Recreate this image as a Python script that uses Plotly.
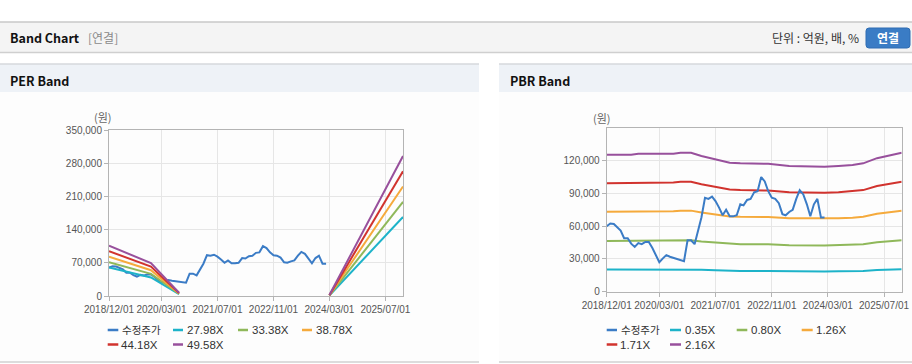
import plotly.graph_objects as go
import pandas as pd

W, H = 912, 364

# ---------------- data ----------------
price_dates = [d.strftime("%Y-%m-%d") for d in pd.date_range("2018-12-01", periods=63, freq="MS")]
price = [60000, 62500, 62000, 59500, 56000, 49000, 49000, 44000, 41000, 44500,
         43500, 45500, 45500, 40000, 33000, 27000, 30500, 33500, 32000, 31000,
         30500, 29500, 28000, 47000, 47000, 43500, 57000, 68000, 86000, 85000,
         87000, 83000, 77000, 70000, 75000, 69000, 69000, 70000, 80000, 79000,
         84000, 85000, 91000, 92000, 105000, 101000, 92000, 86000, 85000, 81000,
         71000, 70000, 73000, 75000, 85000, 93000, 89000, 80000, 69000, 80000,
         85000, 68000, 68000]

per_dates = ["2018-12-01", "2019-03-01", "2019-06-01", "2019-09-01", "2019-12-01",
             "2020-03-01", "2020-06-01", "2020-08-01", "2022-06-01",
             "2024-03-01", "2024-06-01", "2024-09-01", "2024-12-01", "2025-03-01",
             "2025-06-01", "2025-09-01", "2025-12-01"]
per_names = ["27.98X", "33.38X", "38.78X", "44.18X", "49.58X"]
per_2798 = [59900, 54800, 50100, 44800, 39200, 26000, 12600, 3900, None,
            1100, 24600, 48100, 71900, 95700, 119200, 143000, 166500]
per_3338 = [71400, 65400, 59800, 53400, 46700, 31000, 15000, 4700, None,
            1300, 29400, 57400, 85800, 114200, 142200, 170600, 198600]
per_3878 = [83000, 76000, 69400, 62000, 54300, 36100, 17500, 5400, None,
            1600, 34100, 66700, 99700, 132600, 165200, 198200, 230700]
per_4418 = [94500, 86600, 79100, 70700, 61900, 41100, 19900, 6200, None,
            1800, 38900, 76000, 113500, 151100, 188200, 225800, 262900]
per_4958 = [106100, 97200, 88700, 79300, 69400, 46100, 22300, 6900, None,
            2000, 43600, 85300, 127400, 169600, 211200, 253400, 295000]

pbr_dates = ["2018-12-01", "2019-07-01", "2019-09-01", "2020-07-01", "2020-09-01",
             "2020-12-01", "2021-03-01", "2021-07-01", "2021-11-01", "2022-02-01",
             "2022-10-01", "2023-04-01", "2024-02-01", "2024-06-01", "2024-10-01",
             "2025-01-01", "2025-05-01", "2025-12-01"]
pbr_names = ["0.35X", "0.80X", "1.26X", "1.71X", "2.16X"]
pbr_035 = [20335, 20335, 20475, 20475, 20615, 20615, 20125, 19670, 19145, 19040,
           18970, 18655, 18550, 18655, 18795, 19040, 19810, 20615]
pbr_080 = [46480, 46480, 46800, 46800, 47120, 47120, 46000, 44960, 43760, 43520,
           43360, 42640, 42400, 42640, 42960, 43520, 45280, 47120]
pbr_126 = [73206, 73206, 73710, 73710, 74214, 74214, 72450, 70812, 68922, 68544,
           68292, 67158, 66780, 67158, 67662, 68544, 71316, 74214]
pbr_171 = [99351, 99351, 100035, 100035, 100719, 100719, 98325, 96102, 93537, 93024,
           92682, 91143, 90630, 91143, 91827, 93024, 96786, 100719]
pbr_216 = [125496, 125496, 126360, 126360, 127224, 127224, 124200, 121392, 118152, 117504,
           117072, 115128, 114480, 115128, 115992, 117504, 122256, 127224]

tick_dates = ["2018-12-01", "2020-03-01", "2021-07-01", "2022-11-01", "2024-03-01", "2025-07-01"]
tick_text = ["2018/12/01", "2020/03/01", "2021/07/01", "2022/11/01", "2024/03/01", "2025/07/01"]

price_name = "수정주가"
colors = ["#3b7cc6", "#1db3c9", "#8fb85a", "#f5aa3c", "#d1332e", "#98509c"]

# ---------------- figure ----------------
def px(x):
    return x / W

def py(y):
    return 1 - y / H

fig = go.Figure()

fig.add_trace(go.Scatter(x=price_dates, y=price, mode="lines", name=price_name,
                         line=dict(color=colors[0], width=2), xaxis="x", yaxis="y"))
for nm, vals, c in zip(per_names, [per_2798, per_3338, per_3878, per_4418, per_4958], colors[1:]):
    fig.add_trace(go.Scatter(x=per_dates, y=vals, mode="lines", name=nm, connectgaps=False,
                             line=dict(color=c, width=2), xaxis="x", yaxis="y"))

for nm, vals, c in zip(pbr_names, [pbr_035, pbr_080, pbr_126, pbr_171, pbr_216], colors[1:]):
    fig.add_trace(go.Scatter(x=pbr_dates, y=vals, mode="lines", name=nm,
                             line=dict(color=c, width=2), xaxis="x2", yaxis="y2"))
fig.add_trace(go.Scatter(x=price_dates, y=price, mode="lines", name=price_name,
                         line=dict(color=colors[0], width=2), xaxis="x2", yaxis="y2"))

tick_font = dict(family="Liberation Sans, Arial", size=10, color="#555555")
grid = "#e6e6e6"
border = "#b4b4b4"

def xax(domain):
    return dict(domain=domain, type="date", range=["2018-12-01", "2025-12-01"],
                tickmode="array", tickvals=tick_dates, ticktext=tick_text, tickangle=0,
                showgrid=True, gridcolor=grid, gridwidth=1, zeroline=False,
                showline=True, linecolor=border, linewidth=1, mirror=True,
                ticks="outside", ticklen=4, tickcolor=border, tickfont=tick_font,
                automargin=False, fixedrange=True)

def yax(domain, rng, dtick, anchor):
    return dict(domain=domain, range=rng, dtick=dtick, tick0=0, tickformat=",d",
                showgrid=True, gridcolor=grid, gridwidth=1, zeroline=False,
                showline=True, linecolor=border, linewidth=1, mirror=True,
                ticks="outside", ticklen=4, tickcolor=border, tickfont=tick_font,
                anchor=anchor, automargin=False, fixedrange=True)

fig.update_layout(
    width=W, height=H, margin=dict(l=0, r=0, t=0, b=0, pad=0, autoexpand=False),
    paper_bgcolor="white", plot_bgcolor="white", showlegend=False,
    xaxis=dict(xax([px(109), px(403)]), anchor="y"),
    yaxis=yax([py(296), py(130)], [0, 350000], 70000, "x"),
    xaxis2=dict(xax([px(606.7), px(901.7)]), anchor="y2"),
    yaxis2=yax([py(291.7), py(128.3)], [0, 149600], 30000, "x2"),
)

shapes = []
# top header
shapes.append(dict(type="rect", xref="paper", yref="paper", x0=0, x1=1, y0=py(52), y1=py(22),
                   fillcolor="#f4f4f4", line=dict(width=0), layer="below"))
shapes.append(dict(type="line", xref="paper", yref="paper", x0=0, x1=1, y0=py(22), y1=py(22),
                   line=dict(color="#c8c8c8", width=1.5)))
shapes.append(dict(type="line", xref="paper", yref="paper", x0=0, x1=1, y0=py(52.5), y1=py(52.5),
                   line=dict(color="#cfcfcf", width=1.5)))
# panels
for x0, x1 in [(0, 479), (499, 912)]:
    shapes.append(dict(type="rect", xref="paper", yref="paper", x0=px(x0), x1=px(x1), y0=py(362), y1=py(64),
                       fillcolor="#fdfdfd", line=dict(width=0), layer="below"))
    shapes.append(dict(type="rect", xref="paper", yref="paper", x0=px(x0), x1=px(x1), y0=py(92), y1=py(64),
                       fillcolor="#eef2f7", line=dict(width=0), layer="below"))
    shapes.append(dict(type="line", xref="paper", yref="paper", x0=px(x0), x1=px(x1), y0=py(64), y1=py(64),
                       line=dict(color="#d6d9dd", width=1.5)))
    shapes.append(dict(type="line", xref="paper", yref="paper", x0=px(x0), x1=px(x1), y0=py(362), y1=py(362),
                       line=dict(color="#d0d0d0", width=1.5)))
# button
shapes.append(dict(type="path", xref="paper", yref="paper",
                   path="M {a},{b} L {c},{b} Q {d},{b} {d},{e} L {d},{f} Q {d},{g} {c},{g} L {a},{g} Q {h},{g} {h},{f} L {h},{e} Q {h},{b} {a},{b} Z".format(
                       a=px(869), c=px(907), d=px(910), h=px(866), b=py(28), e=py(31), f=py(45), g=py(48)),
                   fillcolor="#3a7cc5", line=dict(color="#2f6db3", width=1)))

# custom legends
R1, R2 = 330, 344.5
legend_rows = [
    # (sample x0, x1, text x, y, color, text)
    (107.7, 118.3, 121, R1, colors[0], price_name),
    (173, 183, 185.5, R1, colors[1], per_names[0]),
    (238, 248, 250.5, R1, colors[2], per_names[1]),
    (302, 312, 314.5, R1, colors[3], per_names[2]),
    (107.7, 118.3, 120, R2, colors[4], per_names[3]),
    (173, 183, 185.5, R2, colors[5], per_names[4]),
    (606.7, 617, 620, R1, colors[0], price_name),
    (670, 681, 683.5, R1, colors[1], pbr_names[0]),
    (736.7, 747.3, 749.5, R1, colors[2], pbr_names[1]),
    (801.7, 812.7, 814.5, R1, colors[3], pbr_names[2]),
    (606.7, 617.3, 619.3, R2, colors[4], pbr_names[3]),
    (670, 681, 683.5, R2, colors[5], pbr_names[4]),
]
annotations = []
for x0, x1, tx, yy, c, t in legend_rows:
    shapes.append(dict(type="line", xref="paper", yref="paper", x0=px(x0), x1=px(x1), y0=py(yy), y1=py(yy),
                       line=dict(color=c, width=2.5)))
    if t == price_name:
        fnt = dict(family="Noto Sans CJK KR", size=10.5, color="#333333")
        ty = yy - 0.5
    else:
        fnt = dict(family="Liberation Sans, Arial", size=11.5, color="#333333")
        ty = yy
    annotations.append(dict(xref="paper", yref="paper", x=px(tx), y=py(ty), text=t, showarrow=False,
                            xanchor="left", yanchor="middle", borderpad=0, font=fnt))

def label(x, y, text, size, color, bold=False, anchor="left", fam="Noto Sans CJK KR"):
    t = "<b>%s</b>" % text if bold else text
    annotations.append(dict(xref="paper", yref="paper", x=px(x), y=py(y), text=t, showarrow=False,
                            xanchor=anchor, yanchor="middle", borderpad=0,
                            font=dict(family=fam, size=size, color=color)))

label(9, 38, "Band Chart", 12.5, "#111111", bold=True)
label(87, 38, "[연결]", 12, "#8a8a8a")
label(860, 38, "단위 : 억원, 배, %", 12, "#333333", anchor="right")
label(888, 38, "연결", 12, "#ffffff", bold=True, anchor="center")
label(9, 80, "PER Band", 12.5, "#111111", bold=True)
label(509, 80, "PBR Band", 12.5, "#111111", bold=True)
label(103, 117.5, "(원)", 11, "#666666", anchor="center")
label(602, 118.5, "(원)", 11, "#666666", anchor="center")

fig.update_layout(shapes=shapes, annotations=annotations)
fig.write_html(
    "out.html",
    config={"displayModeBar": False, "responsive": False},
    post_script=(
        "var s=document.documentElement.style;s.margin='0';s.padding='0';s.overflow='hidden';"
        "var b=document.body.style;b.margin='0';b.padding='0';b.overflow='hidden';"
    ),
)
